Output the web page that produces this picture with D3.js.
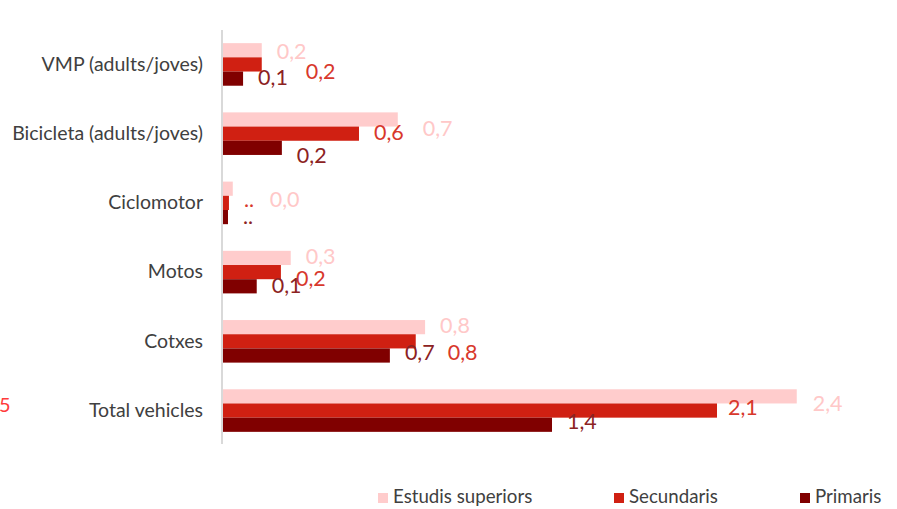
<!DOCTYPE html>
<html>
<head>
<meta charset="utf-8">
<script src="https://cdn.jsdelivr.net/npm/d3@7"></script>
<style>
  body { margin: 0; background: #fff; }
  svg { display: block; font-family: Lato, sans-serif; }
</style>
</head>
<body>
<div id="container"></div>
<script>
/* CONSTANTS AND GLOBALS */
const width = 897, height = 509;

/* DATA */
const categories = ["VMP (adults/joves)", "Bicicleta (adults/joves)", "Ciclomotor", "Motos", "Cotxes", "Total vehicles"];
const seriesNames = ["Estudis superiors", "Secundaris", "Primaris"];
const superiors = [0.166, 0.734, 0.045, 0.287, 0.848, 2.4];
const secundaris = [0.166, 0.572, 0.029, 0.246, 0.809, 2.067];
const primaris = [0.088, 0.25, 0.025, 0.145, 0.701, 1.378];
const superiorsLabels = ["0,2", "0,7", "0,0", "0,3", "0,8", "2,4"];
const secundarisLabels = ["0,2", "0,6", "..", "0,2", "0,8", "2,1"];
const primarisLabels = ["0,1", "0,2", "..", "0,1", "0,7", "1,4"];

// labels were dragged around a bit in the original, small nudges [dx, dy]
const superiorsNudge = [[0, 3], [10, 11], [22, 13], [0, 1], [0, 0], [1, 9]];
const secundarisNudge = [[29, 9], [0, 1], [0, -1], [0, 8], [17, 13], [-4, -1]];
const primarisNudge = [[0, 1], [0, 10], [0, 1], [0, 1], [0, -1], [0, -1]];

const colors = ["#ffcccc", "#d02012", "#800000"];
const labelColors = ["#ffc8c8", "#d8382c", "#8c2222"];

const series = [
  { name: seriesNames[0], values: superiors, labels: superiorsLabels, nudge: superiorsNudge },
  { name: seriesNames[1], values: secundaris, labels: secundarisLabels, nudge: secundarisNudge },
  { name: seriesNames[2], values: primaris, labels: primarisLabels, nudge: primarisNudge }
];

/* SCALES */
const x0 = 222;
const xScale = d3.scaleLinear()
  .domain([0, 2.5])
  .range([x0, x0 + 598.7]);

const yScale = d3.scaleBand()
  .domain(categories)
  .range([30, 445])
  .paddingInner(0.385)
  .paddingOuter(0.19);

const ySub = d3.scaleBand()
  .domain(seriesNames)
  .range([0, yScale.bandwidth()]);

const svg = d3.select("#container").append("svg")
  .attr("width", width)
  .attr("height", height);

/* BARS */
series.forEach((s, si) => {
  const g = svg.append("g");
  g.selectAll("rect")
    .data(categories)
    .join("rect")
    .attr("x", xScale(0))
    .attr("y", (c) => yScale(c) + ySub(s.name))
    .attr("width", (c, i) => xScale(s.values[i]) - xScale(0))
    .attr("height", ySub.bandwidth())
    .attr("fill", colors[si]);

  g.selectAll("text")
    .data(categories)
    .join("text")
    .attr("x", (c, i) => xScale(s.values[i]) + 15 + s.nudge[i][0])
    .attr("y", (c, i) => yScale(c) + ySub(s.name) + ySub.bandwidth() / 2 + s.nudge[i][1])
    .attr("dominant-baseline", "middle")
    .attr("font-size", 21.5)
    .attr("fill", labelColors[si])
    .text((c, i) => s.labels[i]);
});

/* AXIS */
const yAxis = d3.axisLeft(yScale).tickSize(0).tickPadding(19);
const axisG = svg.append("g")
  .attr("transform", `translate(${x0},0)`)
  .call(yAxis);
axisG.select(".domain").remove();
axisG.selectAll("text")
  .attr("font-size", 19.5)
  .attr("font-family", "Lato, sans-serif")
  .attr("fill", "#404040");

svg.append("line")
  .attr("x1", x0).attr("x2", x0)
  .attr("y1", 30).attr("y2", 444)
  .attr("stroke", "#d9d9d9")
  .attr("stroke-width", 2);

// stray bit of the neighbouring chart
svg.append("text")
  .attr("x", -1)
  .attr("y", yScale("Total vehicles") + yScale.bandwidth() / 2 - 4)
  .attr("dominant-baseline", "middle")
  .attr("font-size", 20)
  .attr("fill", "#ff3b3b")
  .text("5");

/* LEGEND */
const legendX = [378, 614, 800];
const legend = svg.append("g");
seriesNames.forEach((n, i) => {
  legend.append("rect")
    .attr("x", legendX[i]).attr("y", 493)
    .attr("width", 10).attr("height", 10)
    .attr("fill", colors[i]);
  legend.append("text")
    .attr("x", legendX[i] + 15).attr("y", 498)
    .attr("dominant-baseline", "middle")
    .attr("font-size", 18.7)
    .attr("fill", "#404040")
    .text(n);
});
</script>
</body>
</html>
